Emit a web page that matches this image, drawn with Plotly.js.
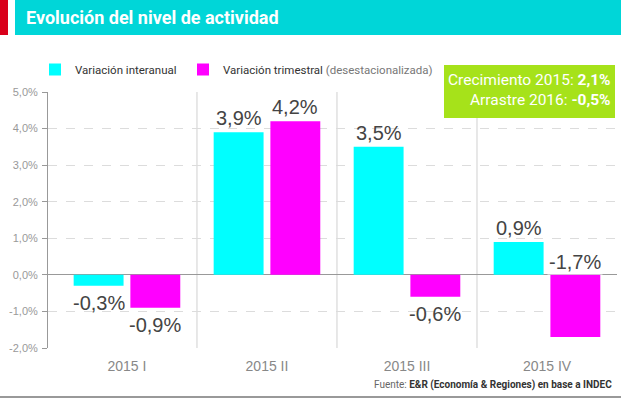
<!DOCTYPE html>
<html>
<head>
<meta charset="utf-8">
<script src="https://cdn.plot.ly/plotly-3.0.1.min.js"></script>
<style>html,body{margin:0;padding:0;background:#fff;}#chart{width:621px;height:399px;}</style>
</head>
<body>
<div id="chart"></div>
<script>
// ---- data ----
var categories = ['2015 I', '2015 II', '2015 III', '2015 IV'];
var interanual = [-0.3, 3.9, 3.5, 0.9];
var trimestral = [-0.9, 4.2, -0.6, -1.7];
var seriesNames = ['Variación interanual', 'Variación trimestral'];
var yTicks = [-2, -1, 0, 1, 2, 3, 4, 5];

// ---- layout helpers ----
var W = 621, H = 399;
var M = {l: 48, r: 4, t: 92, b: 51};
var PW = W - M.l - M.r, PH = H - M.t - M.b;
function px(x) { return (x - M.l) / PW; }
function py(y) { return (H - M.b - y) / PH; }

var COND = 'Roboto, "Liberation Sans", sans-serif';
var BASE = '"Liberation Sans", Arial, sans-serif';
var yMin = -2, yMax = 5;
var bargap = 0.19;
var off = (1 - bargap) / 4;

function fmt(v) { return v.toFixed(1).replace('.', ',') + '%'; }

var traces = [
  {type: 'bar', x: categories, y: interanual, name: seriesNames[0],
   marker: {color: '#00ffff'}, hoverinfo: 'x+y', legend: 'legend'},
  {type: 'bar', x: categories, y: trimestral,
   name: seriesNames[1] + ' <span style="color:#777">(desestacionalizada)</span>',
   marker: {color: '#ff00ff'}, hoverinfo: 'x+y', legend: 'legend2'}
];

var annotations = [];
[interanual, trimestral].forEach(function (series, s) {
  series.forEach(function (v, i) {
    var xi = i + (s === 0 ? -off : off);
    var a = {xref: 'x', yref: 'y', x: xi, showarrow: false, text: fmt(v),
             font: {family: BASE, size: 20, color: '#444'}};
    if (v >= 0) { a.y = v; a.yanchor = 'bottom'; a.yshift = 1; }
    else if (v - 0.6 < yMin) { a.y = 0; a.yanchor = 'bottom'; a.yshift = 0; a.bgcolor = '#fff'; }
    else { a.y = v; a.yanchor = 'top'; a.yshift = -4; }
    annotations.push(a);
  });
});

// summary box text
annotations.push({xref: 'paper', yref: 'paper', x: px(613), y: py(90), xanchor: 'right', yanchor: 'middle',
  align: 'right', showarrow: false,
  text: 'Crecimiento 2015: <b>2,1%</b><br>Arrastre 2016: <b>-0,5%</b>',
  font: {family: COND, size: 15.5, color: '#ffffff'}});
// source
annotations.push({xref: 'paper', yref: 'paper', x: px(614), y: py(385), xanchor: 'right', yanchor: 'middle',
  showarrow: false,
  text: '<span style="color:#666">Fuente: </span><b>E&R (Economía & Regiones) en base a INDEC</b>',
  font: {family: COND, size: 10, color: '#333'}});

var shapes = [
  // header banner
  {type: 'rect', xref: 'paper', yref: 'paper', x0: px(0), x1: px(8), y0: py(35), y1: py(0),
   fillcolor: '#d9001b', line: {width: 0}},
  {type: 'rect', xref: 'paper', yref: 'paper', x0: px(15), x1: px(621), y0: py(35), y1: py(0),
   fillcolor: '#00d6d8', line: {width: 0}},
  // summary box
  {type: 'rect', xref: 'paper', yref: 'paper', x0: px(444), x1: px(615), y0: py(118), y1: py(65),
   fillcolor: '#a6e21a', line: {width: 0}},
  // bottom rule
  {type: 'line', xref: 'paper', yref: 'paper', x0: px(0), x1: px(621), y0: py(397), y1: py(397),
   line: {color: '#999', width: 2}}
];
// category separators
for (var k = 0; k < categories.length - 1; k++) {
  shapes.push({type: 'line', xref: 'x', yref: 'y', x0: k + 0.5, x1: k + 0.5, y0: yMin, y1: yMax,
    layer: 'below', line: {color: '#d0d0d0', width: 1}});
}

var legendFont = {family: COND, size: 11.5, color: '#333'};
var layout = {
  width: W, height: H,
  margin: M,
  paper_bgcolor: '#fff', plot_bgcolor: '#fff',
  separators: ',.',
  barmode: 'group', bargap: bargap, bargroupgap: 0.12,
  showlegend: true,
  legend: {orientation: 'h', xref: 'paper', yref: 'paper', x: px(35), y: py(55), xanchor: 'left', yanchor: 'top',
    itemclick: false, font: legendFont, bgcolor: 'rgba(0,0,0,0)'},
  legend2: {orientation: 'h', xref: 'paper', yref: 'paper', x: px(183), y: py(55), xanchor: 'left', yanchor: 'top',
    itemclick: false, font: legendFont, bgcolor: 'rgba(0,0,0,0)'},
  title: {text: '<b>Evolución del nivel de actividad</b>', x: 26 / W, xanchor: 'left', xref: 'container',
    y: 1 - 18 / H, yanchor: 'middle', yref: 'container',
    font: {family: COND, size: 18, color: '#ffffff'}},
  xaxis: {type: 'category', range: [-0.564, 3.5], showgrid: false, zeroline: false, showline: false,
    ticks: '', ticklabelstandoff: 8, tickfont: {family: BASE, size: 14, color: '#888'}, fixedrange: true},
  yaxis: {range: [yMin, yMax], tickmode: 'array', tickvals: yTicks, ticktext: yTicks.map(fmt),
    showgrid: true, gridcolor: '#dcdcdc', griddash: 'dash', gridwidth: 1,
    zeroline: true, zerolinecolor: '#999', zerolinewidth: 1,
    showline: true, linecolor: '#999', linewidth: 1,
    ticks: 'outside', ticklen: 5, tickcolor: '#999', ticklabelstandoff: 2,
    tickfont: {family: BASE, size: 11, color: '#999'}, fixedrange: true},
  shapes: shapes,
  annotations: annotations
};

Plotly.newPlot('chart', traces, layout, {displayModeBar: false, staticPlot: true});
</script>
</body>
</html>
